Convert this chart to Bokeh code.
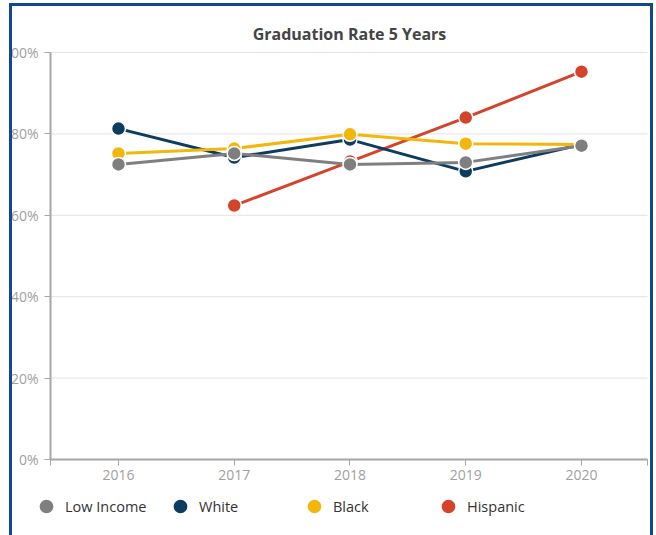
from bokeh.plotting import figure
from bokeh.models import (Range1d, FixedTicker, PrintfTickFormatter, Legend, LegendItem,
                          InlineStyleSheet, Label)
from bokeh.embed import file_html
from bokeh.resources import INLINE

years = [2016, 2017, 2018, 2019, 2020]
low_income = [72.5, 75.2, 72.5, 73.0, 77.1]
white = [81.3, 74.2, 78.6, 70.8, 77.4]
black = [75.2, 76.4, 79.9, 77.6, 77.4]
hisp_years = [2017, 2018, 2019, 2020]
hispanic = [62.4, 73.2, 84.0, 95.3]

series_names = ["Low Income", "White", "Black", "Hispanic"]
colors = {"Low Income": "#7f7f80", "White": "#0c3c5f", "Black": "#f3b70c", "Hispanic": "#d3442a"}
y_ticks = [0, 20, 40, 60, 80, 100]
title_text = "Graduation Rate 5 Years"

FONT = "Open Sans"
BORDER = "#114a8c"
AXIS = "#a6a6a6"

# plot area: x axis spans half a category beyond first/last year, y 0..100 %
X_LO, X_HI = 2015.4125, 2020.5702
W, H = 656, 535
p = figure(width=W, height=H, output_backend="svg", toolbar_location=None,
           x_range=Range1d(2014.9806, 2020.648), y_range=Range1d(-18.673, 112.776),
           min_border=0)
p.background_fill_color = "white"
p.border_fill_alpha = 0
p.outline_line_color = None

# axes fixed inside the frame so that the legend below them stays visible
p.xaxis.fixed_location = 0
p.yaxis.fixed_location = X_LO
p.xaxis.bounds = (X_LO, X_HI)
p.yaxis.bounds = (0, 100)
p.xaxis.ticker = FixedTicker(ticks=years, minor_ticks=[X_LO, X_HI])
p.yaxis.ticker = FixedTicker(ticks=y_ticks, minor_ticks=[])
p.yaxis.formatter = PrintfTickFormatter(format="%d%%")
for ax in (p.xaxis[0], p.yaxis[0]):
    ax.axis_line_color = AXIS
    ax.axis_line_width = 2
    ax.major_tick_line_color = AXIS
    ax.minor_tick_line_color = AXIS
    ax.major_tick_line_width = 1
    ax.minor_tick_line_width = 1
    ax.major_tick_in = 0
    ax.minor_tick_in = 0
    ax.major_label_text_font = FONT
    ax.major_label_text_font_size = "14px"
    ax.major_label_text_color = "#a0a0a0"
p.xaxis.major_tick_out = 6
p.xaxis.minor_tick_out = 6
p.yaxis.major_tick_out = 6
p.yaxis.minor_tick_out = 0
p.xaxis.major_label_standoff = 4
p.yaxis.major_label_standoff = 6

# horizontal grid lines limited to the plot area
p.xgrid.visible = False
p.ygrid.visible = False
p.segment(x0=[X_LO] * len(y_ticks), x1=[X_HI] * len(y_ticks), y0=y_ticks, y1=y_ticks,
          line_color="#e3e3e3", line_width=1, level="underlay")

data = {
    "Low Income": (years, low_income),
    "White": (years, white),
    "Black": (years, black),
    "Hispanic": (hisp_years, hispanic),
}

scatter_r = {}
for name in ["Hispanic", "White", "Black", "Low Income"]:
    xs, ys = data[name]
    p.line(xs, ys, line_color=colors[name], line_width=3)
    scatter_r[name] = p.scatter(xs, ys, size=14, fill_color=colors[name],
                                line_color="white", line_width=1.5)

legend = Legend(items=[LegendItem(label=n, renderers=[scatter_r[n]]) for n in series_names],
                orientation="horizontal", location=(27, 10))
legend.glyph_width = 38
legend.glyph_height = 38
legend.label_standoff = 0
legend.label_width = 96
legend.spacing = 0
legend.padding = 0
legend.margin = 0
legend.border_line_alpha = 0
legend.background_fill_alpha = 0
legend.label_text_font = FONT
legend.label_text_font_size = "14.5px"
legend.label_text_color = "#333333"
p.add_layout(legend, "center")

title = Label(x=349, y=H - 33, x_units="screen", y_units="screen", text=title_text,
              text_align="center", text_baseline="middle", text_font=FONT,
              text_font_size="16px", text_font_style="bold", text_color="#444444")
p.add_layout(title)

# the blue frame around the chart card
p.styles = {"background-color": "white"}
p.stylesheets = [InlineStyleSheet(css=(
    ":host::after { content: ''; position: absolute; left: 9px; top: 3px; "
    "width: 644px; height: 560px; box-sizing: border-box; "
    f"border: 3px solid {BORDER}; box-shadow: -9px 0 0 0 white; "
    "pointer-events: none; z-index: 100; }"
))]

open("out.html", "w").write(file_html(p, INLINE))
